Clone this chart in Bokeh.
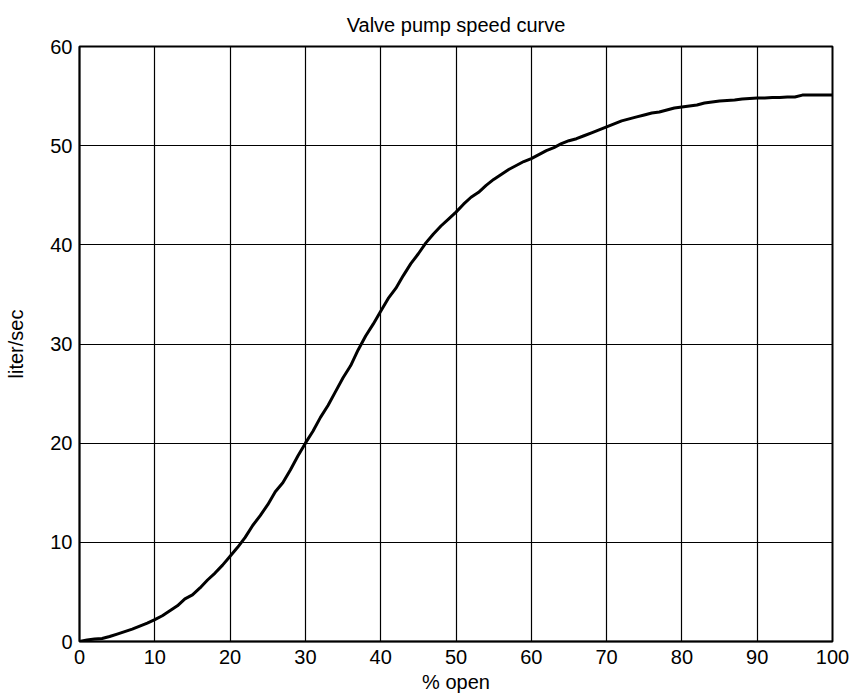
from bokeh.plotting import figure
from bokeh.embed import file_html
from bokeh.resources import INLINE
from bokeh.models import FixedTicker, Range1d

# Data
open_pct = list(range(0, 101))
flow_lps = [
    0.0, 0.15, 0.25, 0.3, 0.5, 0.75, 1.0, 1.25, 1.55, 1.85,
    2.2, 2.6, 3.1, 3.6, 4.3, 4.7, 5.4, 6.2, 6.9, 7.7,
    8.6, 9.5, 10.5, 11.7, 12.7, 13.8, 15.1, 16.0, 17.3, 18.7,
    20.0, 21.2, 22.6, 23.8, 25.2, 26.6, 27.8, 29.4, 30.8, 32.0,
    33.3, 34.6, 35.6, 36.9, 38.1, 39.1, 40.2, 41.1, 41.9, 42.6,
    43.3, 44.1, 44.8, 45.3, 46.0, 46.6, 47.1, 47.6, 48.0, 48.4,
    48.7, 49.1, 49.5, 49.8, 50.2, 50.5, 50.7, 51.0, 51.3, 51.6,
    51.9, 52.2, 52.5, 52.7, 52.9, 53.1, 53.3, 53.4, 53.6, 53.8,
    53.9, 54.0, 54.1, 54.3, 54.4, 54.5, 54.55, 54.6, 54.7, 54.75,
    54.8, 54.8, 54.85, 54.85, 54.9, 54.9, 55.1, 55.1, 55.1, 55.1,
    55.1,
]
x_ticks = [0, 10, 20, 30, 40, 50, 60, 70, 80, 90, 100]
y_ticks = [0, 10, 20, 30, 40, 50, 60]

FONT = "Liberation Sans"

p = figure(
    width=852, height=700,
    output_backend="svg", toolbar_location=None,
    title="Valve pump speed curve",
    x_range=Range1d(0, 100), y_range=Range1d(0, 60),
    min_border_left=79, min_border_right=20,
    min_border_top=46, min_border_bottom=59,
)
p.background_fill_color = "white"
p.border_fill_color = "white"
p.outline_line_color = "black"
p.outline_line_width = 2

p.title.align = "center"
p.title.text_font = FONT
p.title.text_font_size = "20px"
p.title.text_font_style = "normal"
p.title.text_color = "black"
p.title.offset = 0
p.title.standoff = 22

p.line(open_pct, flow_lps, line_color="black", line_width=3)

for ax in (p.xaxis[0], p.yaxis[0]):
    ax.axis_line_color = "black"
    ax.axis_line_width = 1.5
    ax.major_tick_out = 0
    ax.major_tick_in = 0
    ax.minor_tick_out = 0
    ax.minor_tick_in = 0
    ax.major_label_text_font = FONT
    ax.major_label_text_font_size = "20px"
    ax.major_label_text_color = "black"
    ax.axis_label_text_font = FONT
    ax.axis_label_text_font_size = "20px"
    ax.axis_label_text_font_style = "normal"
    ax.axis_label_text_color = "black"

p.xaxis.ticker = FixedTicker(ticks=x_ticks)
p.yaxis.ticker = FixedTicker(ticks=y_ticks)
p.xaxis.axis_label = "% open"
p.yaxis.axis_label = "liter/sec"
p.xaxis.major_label_standoff = 8
p.yaxis.major_label_standoff = 7
p.xaxis.axis_label_standoff = 4
p.yaxis.axis_label_standoff = 20

for g in (p.xgrid[0], p.ygrid[0]):
    g.grid_line_color = "black"
    g.grid_line_alpha = 1.0
    g.grid_line_width = 1.2
p.xgrid.ticker = FixedTicker(ticks=x_ticks)
p.ygrid.ticker = FixedTicker(ticks=y_ticks)

open("out.html", "w").write(file_html(p, INLINE))
